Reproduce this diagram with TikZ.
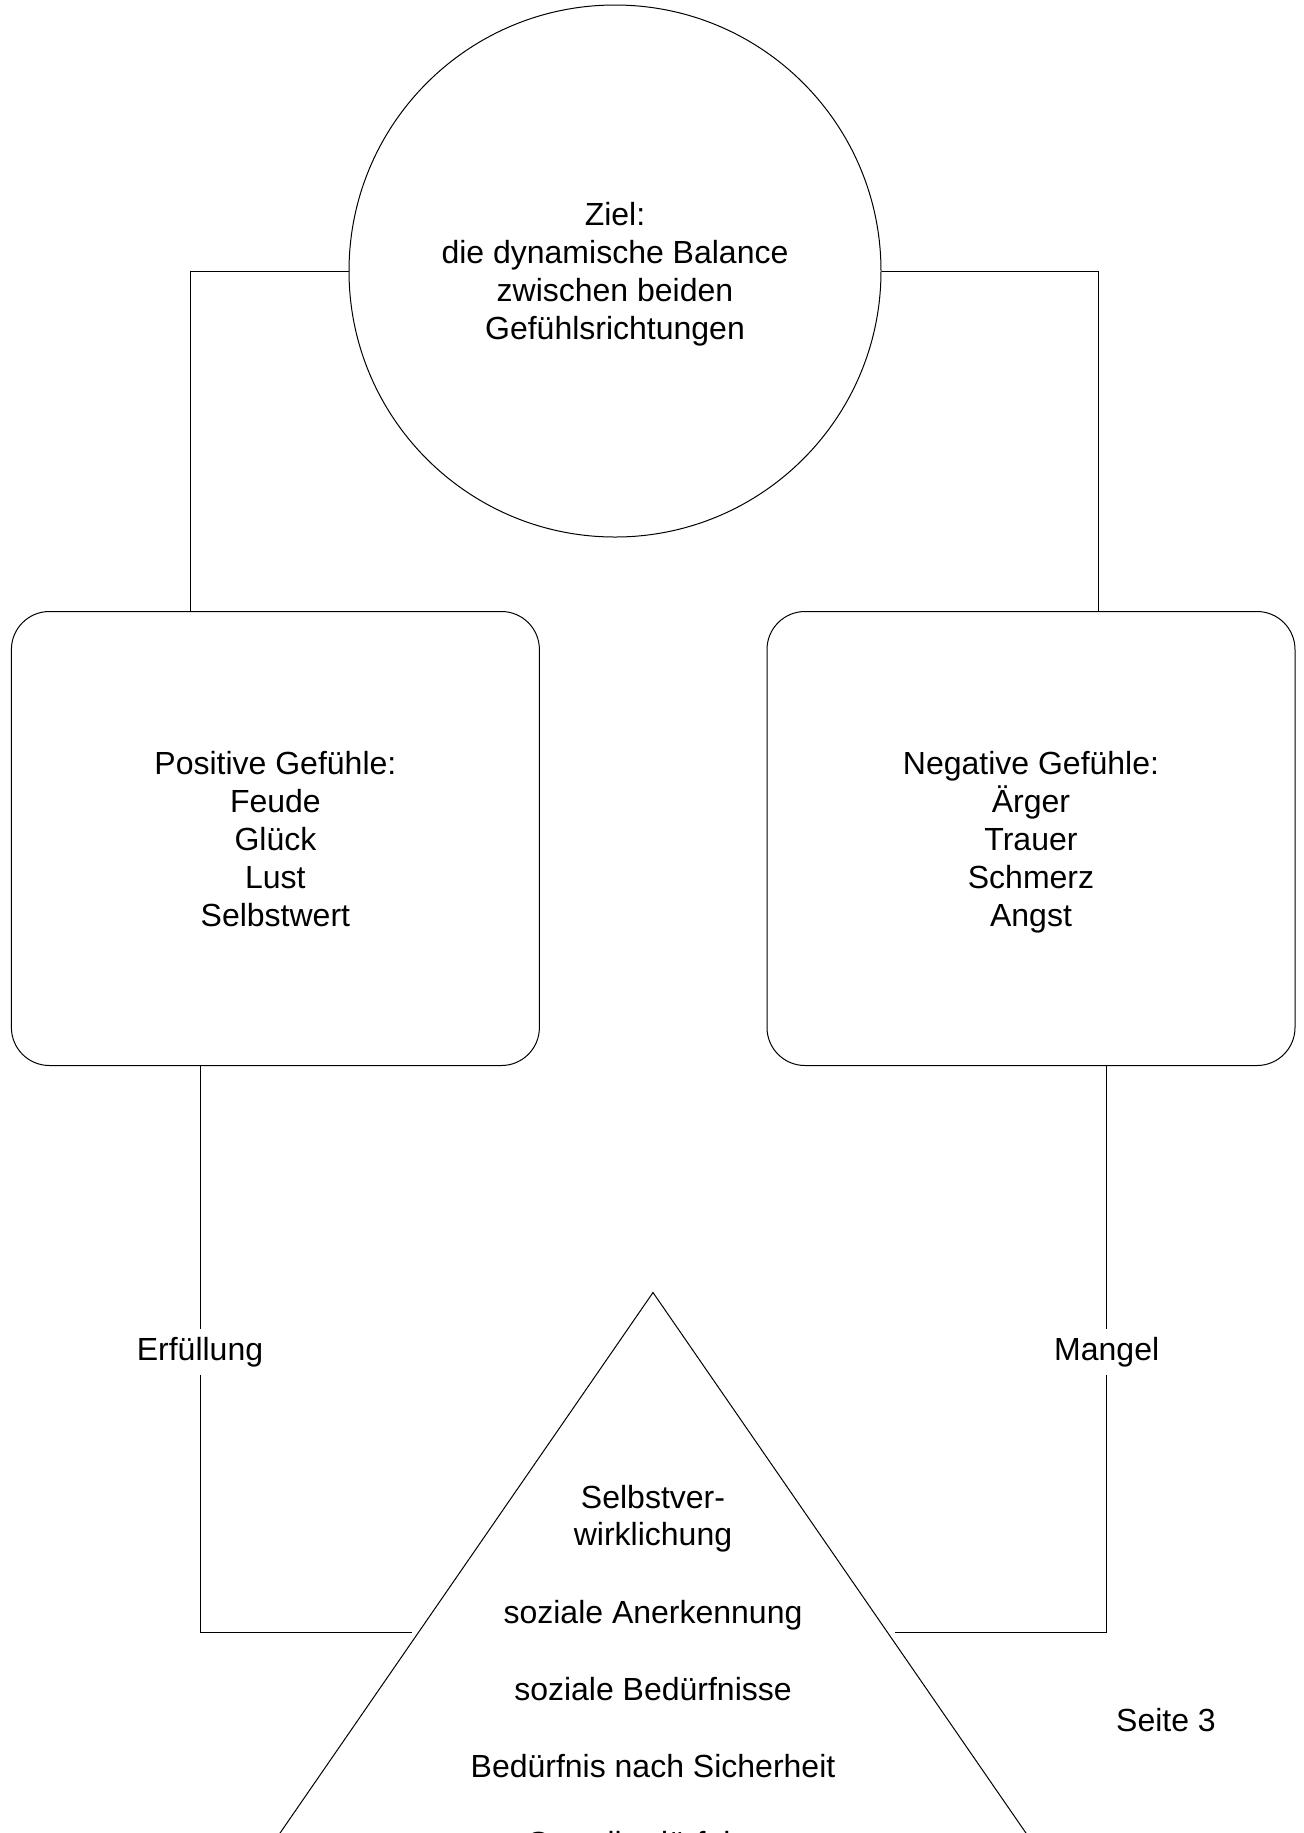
\documentclass[tikz,border=0pt]{standalone}
\usepackage{fontspec}
\setmainfont{Liberation Sans}
\begin{document}
\begin{tikzpicture}[x=0.5pt,y=-0.5pt,
  every node/.style={font=\fontsize{16}{19}\selectfont},
  link/.style={line width=0.5pt},
  goalcircle/.style={circle,draw,line width=0.5pt,minimum size=266pt,inner sep=0pt,align=center,text depth=0pt},
  feelbox/.style={rectangle,draw,line width=0.5pt,rounded corners=19pt,minimum width=264pt,minimum height=227pt,align=center,text depth=0pt},
  tag/.style={inner xsep=2pt,inner ysep=3.7pt},
  plain/.style={anchor=base,inner sep=0pt}]
\clip (0,0) rectangle (1304,1833);

% goal circle
\node[goalcircle] (goal) at (615,271) {Ziel:\\die dynamische Balance\\zwischen beiden\\Gefühlsrichtungen};

% the two feeling boxes
\node[feelbox] (pos) at (275.4,838.5) {Positive Gefühle:\\Feude\\Glück\\Lust\\Selbstwert};
\node[feelbox] (neg) at (1031,838.5) {Negative Gefühle:\\Ärger\\Trauer\\Schmerz\\Angst};

% links from the circle to the boxes
\coordinate (lt) at (190.6,271);
\coordinate (rt) at (1098,271);
\draw[link] (goal.west) -- (lt) -- (lt |- pos.north);
\draw[link] (goal.east) -- (rt) -- (rt |- neg.north);

% pyramid of needs
\coordinate (apex) at (653,1292.5);
\coordinate (baseL) at (101,2092.5);
\coordinate (baseR) at (1205,2092.5);
\draw[link] (baseL) -- (apex) -- (baseR) -- cycle;

\node[plain] (n1) at (653,1508.5) {Selbstver-};
\node[plain] (n2) at (653,1545.5) {wirklichung};
\node[plain] (n3) at (653,1623.5) {soziale Anerkennung};
\node[plain] (n4) at (653,1700.5) {soziale Bedürfnisse};
\node[plain] (n5) at (653,1777.5) {Bedürfnis nach Sicherheit};
\node[plain] (n6) at (653,1854.5) {Grundbedürfnisse};

% links from the boxes down to the pyramid
\node[tag] (erf) at (200,1352) {Erfüllung};
\node[tag] (man) at (1106.7,1352) {Mangel};
\coordinate (lb) at (200,1632.7);
\coordinate (le) at (411.7,1632.7);
\coordinate (rb) at (1106.7,1632.7);
\coordinate (re) at (895,1632.7);
\draw[link] (erf.north |- pos.south) -- (erf.north);
\draw[link] (erf.south) -- (lb) -- (le);
\draw[link] (man.north |- neg.south) -- (man.north);
\draw[link] (man.south) -- (rb) -- (re);

\node[plain] (page) at (1166,1731.5) {Seite 3};
\end{tikzpicture}
\end{document}
